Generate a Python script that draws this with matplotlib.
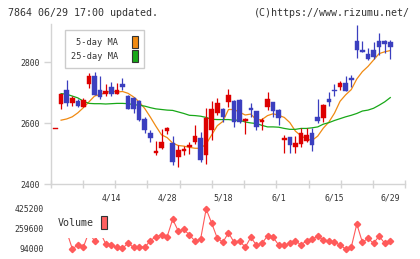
import numpy as np
import matplotlib.pyplot as plt
from matplotlib.patches import Patch

plt.rcParams['font.family'] = ['DejaVu Sans Mono']

# daily prices 3/31 - 6/29 (61 trading days)
opens = [2580, 2662, 2708, 2667, 2672, 2653, 2730, 2754, 2708, 2696,
         2718, 2697, 2728, 2689, 2682, 2674, 2613, 2568, 2503, 2518,
         2575, 2535, 2488, 2508, 2522, 2539, 2550, 2497, 2577, 2632,
         2648, 2670, 2672, 2675, 2607, 2650, 2639, 2603, 2653, 2669,
         2643, 2546, 2554, 2522, 2532, 2542, 2568, 2619, 2617, 2679,
         2710, 2719, 2732, 2747, 2869, 2839, 2826, 2839, 2869, 2869, 2865]
highs = [2580, 2695, 2741, 2689, 2679, 2684, 2765, 2768, 2754, 2728,
         2735, 2733, 2749, 2692, 2686, 2675, 2621, 2577, 2542, 2580,
         2588, 2557, 2528, 2525, 2539, 2593, 2571, 2650, 2672, 2684,
         2650, 2711, 2675, 2679, 2618, 2667, 2640, 2616, 2702, 2670,
         2645, 2561, 2555, 2557, 2584, 2586, 2585, 2679, 2662, 2701,
         2728, 2738, 2754, 2757, 2921, 2869, 2845, 2865, 2894, 2872, 2872]
lows = [2580, 2646, 2656, 2656, 2652, 2653, 2716, 2692, 2680, 2690,
        2688, 2697, 2708, 2645, 2633, 2606, 2568, 2539, 2497, 2515,
        2566, 2462, 2457, 2497, 2498, 2533, 2473, 2466, 2544, 2626,
        2604, 2653, 2588, 2602, 2564, 2620, 2577, 2577, 2643, 2620,
        2594, 2503, 2503, 2503, 2522, 2540, 2509, 2601, 2604, 2656,
        2689, 2708, 2705, 2719, 2814, 2834, 2807, 2809, 2823, 2829, 2810]
closes = [2580, 2695, 2667, 2683, 2656, 2675, 2754, 2692, 2686, 2705,
          2697, 2710, 2719, 2648, 2648, 2610, 2577, 2552, 2509, 2539,
          2585, 2473, 2511, 2515, 2528, 2557, 2479, 2617, 2648, 2665,
          2621, 2692, 2604, 2604, 2613, 2643, 2588, 2610, 2678, 2639,
          2617, 2549, 2528, 2534, 2568, 2561, 2528, 2608, 2659, 2670,
          2706, 2732, 2705, 2741, 2839, 2834, 2810, 2817, 2850, 2859, 2850]

ma5 = [np.nan, 2610, 2614, 2621, 2634, 2651, 2670, 2689, 2694, 2700,
       2706, 2702, 2704, 2698, 2686, 2670, 2648, 2620, 2590, 2562,
       2553, 2535, 2527, 2525, 2521, 2518, 2518, 2532, 2562, 2592,
       2606, 2645, 2645, 2636, 2627, 2630, 2611, 2612, 2625, 2631,
       2626, 2619, 2602, 2574, 2559, 2548, 2544, 2558, 2584, 2604,
       2633, 2672, 2693, 2710, 2745, 2769, 2786, 2807, 2828, 2834, 2838]
ma25 = [np.nan, 2697, 2695, 2689, 2683, 2672, 2665, 2664, 2664, 2663,
        2664, 2665, 2665, 2664, 2661, 2659, 2656, 2651, 2647, 2645,
        2643, 2642, 2637, 2632, 2626, 2625, 2623, 2619, 2613, 2612,
        2612, 2612, 2610, 2610, 2604, 2601, 2599, 2593, 2588, 2588,
        2587, 2583, 2580, 2580, 2583, 2583, 2585, 2588, 2597, 2602,
        2609, 2615, 2621, 2626, 2632, 2640, 2643, 2649, 2659, 2670, 2684]

volume = [250000, 240000, 240000, 97000, 124000, 110600, 235000, 158600, 235000, 135400,
          127000, 108900, 99800, 141200, 108000, 113000, 108000, 162700, 195800, 209900,
          195800, 339900, 243000, 257100, 209900, 160200, 174300, 425200, 306800, 182600,
          149500, 229000, 149500, 162700, 108000, 190900, 127100, 141200, 201600, 190900,
          127100, 127100, 141200, 162700, 127100, 162700, 174300, 201600, 168500, 160200,
          149500, 127100, 94000, 108000, 301000, 149500, 182600, 141200, 201600, 141200, 160200]

date_labels = ['4/14', '4/28', '5/18', '6/1', '6/15', '6/29']
date_pos = [10, 20, 30, 40, 50, 60]
price_ticks = [2400, 2600, 2800]

UP, DOWN = '#dd0000', '#3b3fbf'
GRID = '#d4d4d4'
TXT = '#333333'

o, h, l, c = map(np.array, (opens, highs, lows, closes))
x = np.arange(len(c))
col = np.where(c >= o, UP, DOWN)

fig = plt.figure(figsize=(4.2, 2.59), dpi=100)
W, H = 420, 259
ax = fig.add_axes([50.7 / W, 1 - 184.3 / H, 354.6 / W, 160.3 / H])
xlim = (-0.86, 62.69)

ax.vlines(x, l, h, colors=col, lw=0.9, zorder=3)
body_low = np.minimum(o, c)
body_h = np.maximum(np.abs(c - o), 4)
ax.bar(x, body_h, bottom=body_low, width=0.82, color=col, edgecolor=col, lw=0.3, zorder=4)
ax.plot(x, ma5, color='#f08a12', lw=0.9, zorder=2)
ax.plot(x, ma25, color='#18a818', lw=0.9, zorder=2)

ax.set_xlim(*xlim)
ax.set_ylim(2400, 2925)
for s in ['top', 'right']:
    ax.spines[s].set_visible(False)
for s in ['left', 'bottom']:
    ax.spines[s].set_color(GRID)
    ax.spines[s].set_linewidth(1.0)
ax.set_yticks(price_ticks)
ax.set_yticklabels([str(v) for v in price_ticks])
ax.set_xticks(np.linspace(xlim[0], xlim[1], 12))
ax.set_xticklabels([])
ax.set_xticks(date_pos, minor=True)
ax.set_xticklabels(date_labels, minor=True)
ax.tick_params(axis='y', colors=GRID, labelcolor=TXT, labelsize=5.9, length=4.7, width=1, pad=3.2)
ax.tick_params(axis='x', which='major', colors=GRID, direction='inout', length=5.8, width=1)
ax.tick_params(axis='x', which='minor', length=0, labelcolor=TXT, labelsize=5.9, pad=6.5)

leg = ax.legend(handles=[Patch(facecolor='#f08a12', edgecolor='#333333', lw=0.8, label='5-day MA'),
                         Patch(facecolor='#18a818', edgecolor='#333333', lw=0.8, label='25-day MA')],
                loc='upper left', bbox_to_anchor=(0.0403, 0.9626), borderaxespad=0,
                markerfirst=False, fontsize=6.2, handlelength=0.7, handleheight=1.74,
                labelspacing=0.27, handletextpad=1.6, borderpad=0.7,
                fancybox=False, framealpha=1, edgecolor='#cccccc')
leg.get_frame().set_linewidth(1.0)
for t in leg.get_texts():
    t.set_color(TXT)
leg.set_zorder(1)

# volume panel
vax = fig.add_axes([50.7 / W, 4 / H, 354.6 / W, 52 / H])
vol = np.array(volume)
vax.plot(x, vol, color='#ff5a5a', lw=0.8, marker='D', ms=3.2, mec='#ff5a5a', zorder=2)
vax.set_xlim(*xlim)
vmin, vmax = vol.min(), vol.max()
vax.set_ylim(vmin - 6 * 8280, vmax + 6 * 8280)
vax.set_yticks([vmin, (vmin + vmax) / 2, vmax])
vax.set_yticklabels([f'{int(v)}' for v in [vmin, (vmin + vmax) / 2, vmax]])
vax.set_xticks([])
for s in vax.spines.values():
    s.set_visible(False)
vax.tick_params(axis='y', length=0, labelcolor=TXT, labelsize=5.9, pad=4.8)
vleg = vax.legend(handles=[Patch(facecolor='#ff6060', edgecolor='#333333', lw=0.8, label='Volume')],
                  loc='lower left', bbox_to_anchor=(-0.005, 0.3365), borderaxespad=0,
                  markerfirst=False, fontsize=7.2, handlelength=0.6, handleheight=1.5,
                  handletextpad=0.75, borderpad=0.9, fancybox=False, framealpha=1,
                  edgecolor='none')
vleg.get_texts()[0].set_color(TXT)
vleg.set_zorder(5)

fig.text(8 / W, 1 - 13.3 / H, '7864 06/29 17:00 updated.', fontsize=7.2, color=TXT, va='center', ha='left')
fig.text(409.5 / W, 1 - 13.3 / H, '(C)https://www.rizumu.net/', fontsize=7.2, color=TXT, va='center', ha='right')

fig.savefig('out.png', dpi=100)
